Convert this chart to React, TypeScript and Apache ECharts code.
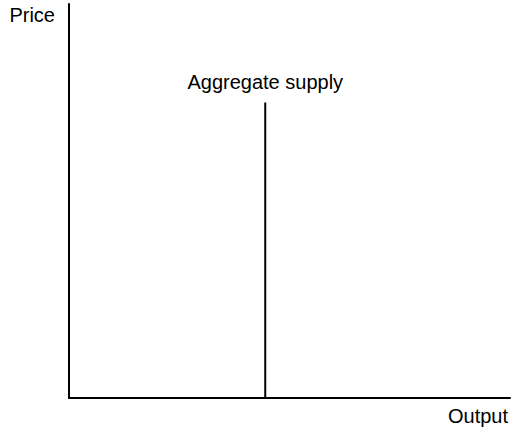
import React, { useEffect, useRef } from "react";
import * as echarts from "echarts";

const xAxisName = "Output";
const yAxisName = "Price";
const seriesName = "Aggregate supply";
const supplyOutput = [44.5, 44.5];
const supplyPrice = [0, 75];
const axisRange = [0, 100];

export default function App() {
  const ref = useRef<HTMLDivElement>(null);
  useEffect(() => {
    if (!ref.current) return;
    const chart = echarts.init(ref.current, null, { renderer: "svg" });
    const font = "'Liberation Sans', Arial, Helvetica, sans-serif";
    const last = supplyOutput.length - 1;
    chart.setOption({
      animation: false,
      backgroundColor: "#ffffff",
      grid: { left: 69, right: 1, top: 4, bottom: 33, containLabel: false },
      xAxis: {
        type: "value",
        min: axisRange[0],
        max: axisRange[1],
        name: xAxisName,
        nameLocation: "end",
        nameGap: -2,
        nameTextStyle: {
          fontFamily: font,
          fontSize: 20,
          color: "#000",
          align: "right",
          verticalAlign: "top",
          padding: [8, 0, 0, 0],
        },
        axisLine: { show: true, lineStyle: { color: "#000", width: 2 } },
        axisTick: { show: false },
        axisLabel: { show: false },
        splitLine: { show: false },
      },
      yAxis: {
        type: "value",
        min: axisRange[0],
        max: axisRange[1],
        name: yAxisName,
        nameLocation: "end",
        nameGap: 0,
        nameTextStyle: {
          fontFamily: font,
          fontSize: 20,
          color: "#000",
          align: "right",
          verticalAlign: "top",
          padding: [1, 14, 0, 0],
        },
        axisLine: { show: true, lineStyle: { color: "#000", width: 2 } },
        axisTick: { show: false },
        axisLabel: { show: false },
        splitLine: { show: false },
      },
      series: [
        {
          type: "line",
          name: seriesName,
          data: supplyOutput.map((x, i) => [x, supplyPrice[i]]),
          showSymbol: false,
          symbol: "none",
          lineStyle: { color: "#000", width: 2 },
          markPoint: {
            symbol: "circle",
            symbolSize: 0,
            itemStyle: { color: "transparent" },
            label: {
              show: true,
              position: "top",
              distance: 11,
              formatter: seriesName,
              fontFamily: font,
              fontSize: 20,
              color: "#000",
            },
            data: [{ coord: [supplyOutput[last], supplyPrice[last]] }],
          },
        },
      ],
    });
    return () => chart.dispose();
  }, []);
  return <div ref={ref} style={{ width: 511, height: 431, position: "absolute", left: 0, top: 0 }} />;
}
